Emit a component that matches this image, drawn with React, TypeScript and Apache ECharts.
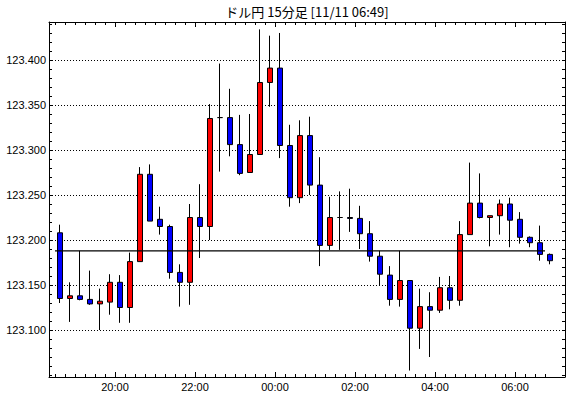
import React, { useEffect, useRef } from 'react';
import * as echarts from 'echarts';

const TITLE = 'ドル円 15分足 [11/11 06:49]';

const barTimes = [
  '18:30', '18:45', '19:00', '19:15', '19:30', '19:45', '20:00', '20:15', '20:30', '20:45',
  '21:00', '21:15', '21:30', '21:45', '22:00', '22:15', '22:30', '22:45', '23:00', '23:15',
  '23:30', '23:45', '00:00', '00:15', '00:30', '00:45', '01:00', '01:15', '01:30', '01:45',
  '02:00', '02:15', '02:30', '02:45', '03:00', '03:15', '03:30', '03:45', '04:00', '04:15',
  '04:30', '04:45', '05:00', '05:15', '05:30', '05:45', '06:00', '06:15', '06:30', '06:45',
];

const opens = [
  123.208, 123.135, 123.138, 123.134, 123.129, 123.131, 123.153, 123.125, 123.176, 123.273,
  123.223, 123.215, 123.164, 123.153, 123.225, 123.215, 123.336, 123.336, 123.306, 123.275,
  123.295, 123.375, 123.391, 123.305, 123.247, 123.316, 123.261, 123.194, 123.225, 123.225,
  123.224, 123.207, 123.182, 123.161, 123.134, 123.155, 123.102, 123.126, 123.122, 123.147,
  123.133, 123.206, 123.241, 123.225, 123.227, 123.240, 123.223, 123.203, 123.197, 123.184,
];
const closes = [
  123.135, 123.138, 123.134, 123.129, 123.132, 123.153, 123.125, 123.176, 123.273, 123.221,
  123.215, 123.164, 123.153, 123.225, 123.215, 123.335, 123.336, 123.306, 123.274, 123.295,
  123.375, 123.391, 123.305, 123.247, 123.316, 123.261, 123.194, 123.225, 123.225, 123.224,
  123.207, 123.182, 123.162, 123.134, 123.155, 123.102, 123.126, 123.122, 123.147, 123.133,
  123.206, 123.241, 123.225, 123.227, 123.240, 123.222, 123.203, 123.197, 123.184, 123.177,
];
const lows = [
  123.130, 123.109, 123.133, 123.128, 123.100, 123.117, 123.108, 123.108, 123.176, 123.221,
  123.206, 123.157, 123.126, 123.128, 123.180, 123.200, 123.276, 123.293, 123.272, 123.275,
  123.295, 123.348, 123.291, 123.237, 123.241, 123.250, 123.171, 123.189, 123.189, 123.209,
  123.190, 123.176, 123.150, 123.127, 123.126, 123.055, 123.079, 123.070, 123.119, 123.123,
  123.127, 123.206, 123.224, 123.193, 123.206, 123.192, 123.196, 123.192, 123.177, 123.173,
];
const highs = [
  123.217, 123.153, 123.188, 123.166, 123.146, 123.162, 123.161, 123.186, 123.281, 123.284,
  123.237, 123.217, 123.173, 123.240, 123.262, 123.351, 123.396, 123.368, 123.339, 123.340,
  123.434, 123.427, 123.430, 123.328, 123.333, 123.337, 123.292, 123.248, 123.254, 123.257,
  123.238, 123.221, 123.188, 123.171, 123.188, 123.155, 123.146, 123.142, 123.159, 123.160,
  123.221, 123.286, 123.274, 123.227, 123.245, 123.247, 123.231, 123.204, 123.216, 123.185,
];

const timeLabels = ['20:00', '22:00', '00:00', '02:00', '04:00', '06:00'];
const priceLabels = [123.1, 123.15, 123.2, 123.25, 123.3, 123.35, 123.4];

const refLevel = 123.188;
const refFromBar = '18:30';
const refToBar = '06:30';

const Y_MIN = 123.0478;
const Y_MAX = 123.4422;
const X_MIN = -1.1;
const X_MAX = 50.5;

const FONT = '"Liberation Sans", Arial, sans-serif';

export default function App() {
  const ref = useRef<HTMLDivElement>(null);

  useEffect(() => {
    if (!ref.current) return;
    const chart = echarts.init(ref.current, null, { renderer: 'svg' });

    const labelPos = timeLabels.map((t) => barTimes.indexOf(t) - 0.5);
    const minorX: number[] = barTimes.map((_, i) => i - 0.5);
    const minorY: number[] = [];
    for (let k = 5; k <= 44; k++) minorY.push(Math.round((123 + k / 100) * 1000) / 1000);

    const blk = { color: '#000', width: 1 };
    const xBase = { type: 'value', min: X_MIN, max: X_MAX, splitLine: { show: false } };
    const yBase = { type: 'value', min: Y_MIN, max: Y_MAX, scale: true };

    const candleData = barTimes.map((_, i) => [i, opens[i], closes[i], lows[i], highs[i]]);
    const refFrom = barTimes.indexOf(refFromBar) - 0.5;
    const refTo = barTimes.indexOf(refToBar) + 0.5;

    const option: any = {
      animation: false,
      backgroundColor: '#fff',
      grid: { left: 49, right: 5, top: 22, bottom: 21, containLabel: false },
      graphic: [
        {
          type: 'text',
          x: 307,
          y: 11,
          style: {
            text: TITLE,
            fill: '#000',
            fontSize: 13,
            fontFamily: '"Noto Sans CJK JP", sans-serif',
            align: 'center',
            verticalAlign: 'middle',
          },
        },
      ],
      xAxis: [
        {
          ...xBase,
          position: 'bottom',
          axisLine: { show: true, onZero: false, lineStyle: blk },
          axisTick: { show: true, inside: true, length: 3, customValues: minorX, lineStyle: blk },
          axisLabel: {
            show: true,
            customValues: labelPos,
            color: '#000',
            fontSize: 11,
            fontFamily: FONT,
            margin: 4,
            formatter: (v: number) => {
              const i = labelPos.findIndex((p) => Math.abs(p - v) < 1e-6);
              return i >= 0 ? timeLabels[i] : '';
            },
          },
        },
        {
          ...xBase,
          position: 'bottom',
          axisLine: { show: false, onZero: false },
          axisTick: { show: true, inside: true, length: 5, customValues: labelPos, lineStyle: blk },
          axisLabel: { show: false },
        },
        {
          ...xBase,
          position: 'top',
          axisLine: { show: true, onZero: false, lineStyle: blk },
          axisTick: { show: true, inside: true, length: 3, customValues: minorX, lineStyle: blk },
          axisLabel: { show: false },
        },
        {
          ...xBase,
          position: 'top',
          axisLine: { show: false, onZero: false },
          axisTick: { show: true, inside: true, length: 5, customValues: labelPos, lineStyle: blk },
          axisLabel: { show: false },
        },
      ],
      yAxis: [
        {
          ...yBase,
          position: 'left',
          axisLine: { show: true, onZero: false, lineStyle: blk },
          axisTick: { show: true, inside: true, length: 3, customValues: priceLabels, lineStyle: blk },
          axisLabel: {
            show: true,
            customValues: priceLabels,
            color: '#000',
            fontSize: 11,
            fontFamily: FONT,
            margin: 3,
            formatter: (v: number) => v.toFixed(3),
          },
          splitLine: { show: true, lineStyle: { color: '#000', width: 1, type: [1, 2] } },
        },
        {
          ...yBase,
          position: 'left',
          axisLine: { show: false, onZero: false },
          axisTick: { show: true, inside: true, length: 3, customValues: minorY, lineStyle: blk },
          axisLabel: { show: false },
          splitLine: { show: false },
        },
        {
          ...yBase,
          position: 'right',
          axisLine: { show: true, onZero: false, lineStyle: blk },
          axisTick: { show: true, inside: true, length: 3, customValues: minorY, lineStyle: blk },
          axisLabel: { show: false },
          splitLine: { show: false },
        },
      ],
      series: [
        {
          type: 'candlestick',
          xAxisIndex: 0,
          yAxisIndex: 0,
          data: candleData,
          barWidth: 6,
          z: 2,
          itemStyle: {
            color: '#ff0000',
            color0: '#0000ff',
            borderColor: '#000',
            borderColor0: '#000',
            borderColorDoji: '#000',
            borderWidth: 1,
          },
        },
        {
          type: 'line',
          xAxisIndex: 0,
          yAxisIndex: 0,
          data: [
            [refFrom, refLevel],
            [refTo, refLevel],
          ],
          symbol: 'none',
          silent: true,
          z: 5,
          lineStyle: { color: '#000', width: 1.2 },
        },
      ],
    };

    chart.setOption(option);
    return () => chart.dispose();
  }, []);

  return (
    <div
      ref={ref}
      style={{ position: 'fixed', left: 0, top: 0, width: 570, height: 398, background: '#fff' }}
    />
  );
}
